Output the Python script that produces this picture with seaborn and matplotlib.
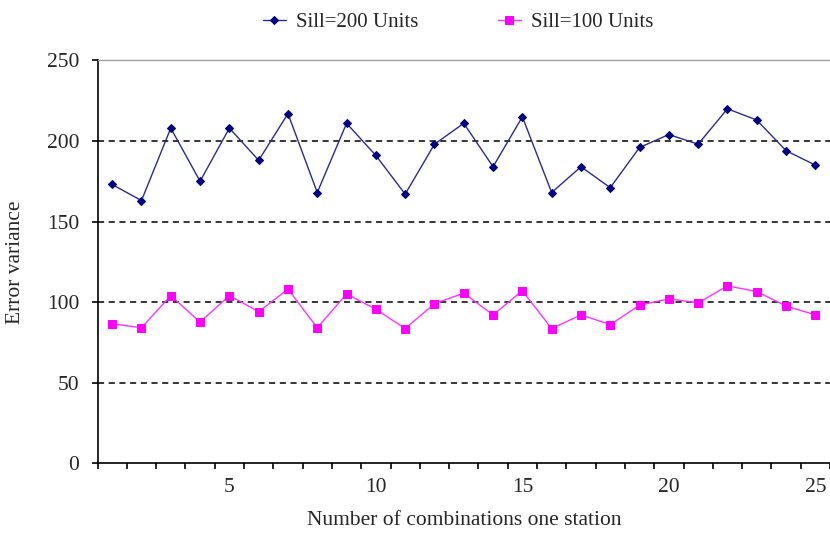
import numpy as np
import pandas as pd
import matplotlib
matplotlib.use("Agg")
import matplotlib.pyplot as plt
import seaborn as sns

# values
combinations = list(range(1, 26))
sill_200 = [173, 163, 208, 175, 208, 188, 217, 168, 211, 191, 167, 198, 211,
            184, 215, 168, 184, 171, 196, 204, 198, 220, 213, 194, 185]
sill_100 = [86.5, 84, 104, 87.5, 104, 94, 108, 84, 105, 95.5, 83.5, 99, 105.5,
            92, 107, 83.5, 92, 86, 98, 102, 99.5, 110, 106.5, 97.5, 92]
y_ticks = [0, 50, 100, 150, 200, 250]
x_labels = [5, 10, 15, 20, 25]

df = pd.DataFrame({'combo': combinations, 'sill200': sill_200, 'sill100': sill_100})

sns.set_style("white")
plt.rcParams['font.family'] = ['Liberation Serif', 'DejaVu Serif']

fig = plt.figure(figsize=(8.3, 5.33), dpi=100)
ax = fig.add_axes([0.1175, 0.1313, 0.8825, 0.7552])

# dashed grid first, so the lines sit on top
for v in y_ticks[1:-1]:
    ax.axhline(v, color='black', linestyle=(0, (4, 3)), linewidth=1.1, zorder=1)

sns.lineplot(data=df, x='combo', y='sill200', ax=ax, color='#2b2b8c', linewidth=1.0,
             marker='D', markersize=4.5, markerfacecolor='#000080', markeredgecolor='#000080',
             label='Sill=200 Units', zorder=3)
sns.lineplot(data=df, x='combo', y='sill100', ax=ax, color='#ff33ff', linewidth=1.0,
             marker='s', markersize=6, markerfacecolor='#ff00ff', markeredgecolor='#ff00ff',
             label='Sill=100 Units', zorder=3)

ax.set_xlim(0.5, 25.5)
ax.set_ylim(0, 250)
ax.set_yticks(y_ticks)
ax.set_xticks(x_labels)
ax.set_xticks(np.arange(0.5, 26, 1), minor=True)
ax.tick_params(which='both', bottom=True, left=True)
ax.tick_params(axis='x', which='major', length=0, pad=11, labelsize=15.5)
ax.tick_params(axis='x', which='minor', length=4, width=1.2, direction='out', color='black')
ax.tick_params(axis='y', length=4, width=1.2, direction='out', color='black', pad=9, labelsize=15.5)

ax.spines['right'].set_visible(False)
ax.spines['top'].set_color('#a0a0a0')
ax.spines['top'].set_linewidth(1.0)
for side in ['left', 'bottom']:
    ax.spines[side].set_color('black')
    ax.spines[side].set_linewidth(1.2)

ax.set_xlabel('Number of combinations one station', fontsize=15.5, labelpad=10)
ax.set_ylabel('Error variance', fontsize=15.5, labelpad=16)

handles, labels = ax.get_legend_handles_labels()
ax.get_legend().remove()
fig.legend(handles, labels, loc='center', bbox_to_anchor=(0.552, 0.958), ncol=2,
           frameon=False, fontsize=15, handlelength=1.1, handletextpad=0.5,
           columnspacing=3.8)

fig.savefig('out.png', dpi=100)
